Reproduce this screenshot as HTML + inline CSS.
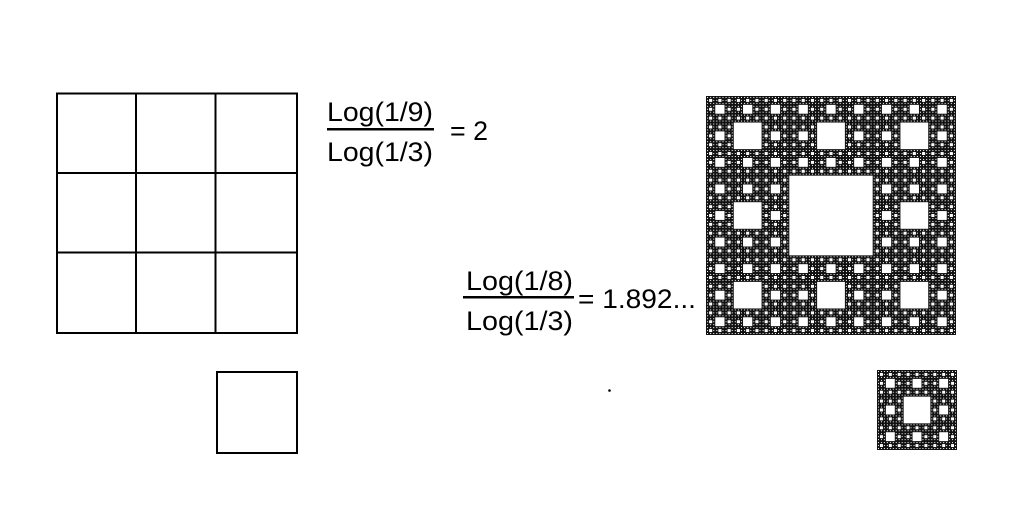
<!DOCTYPE html>
<html><head><meta charset="utf-8"><style>
html,body{margin:0;padding:0;background:#fff;}
svg{display:block;}
text{font-family:"Liberation Sans",sans-serif;fill:#000;}
</style></head><body>
<svg id="s" width="1024" height="513" viewBox="0 0 1024 513" xmlns="http://www.w3.org/2000/svg">
<rect width="1024" height="513" fill="#fff"/>
<g fill="none" stroke="#000" stroke-width="2">
<rect x="57" y="93.5" width="240" height="239.5"/>
<line x1="136" y1="93" x2="136" y2="333"/>
<line x1="215.5" y1="93" x2="215.5" y2="333"/>
<line x1="56" y1="173" x2="297" y2="173"/>
<line x1="56" y1="252.5" x2="297" y2="252.5"/>
<rect x="217" y="372" width="80" height="81"/>
</g>
<g font-size="27">
<text x="327" y="121" textLength="106" lengthAdjust="spacingAndGlyphs">Log(1/9)</text>
<rect x="327" y="128" width="107" height="2.5" fill="#000"/>
<text x="327" y="161" textLength="106" lengthAdjust="spacingAndGlyphs">Log(1/3)</text>
<text x="450" y="140" textLength="38" lengthAdjust="spacingAndGlyphs">= 2</text>
<text x="466" y="290" textLength="107" lengthAdjust="spacingAndGlyphs">Log(1/8)</text>
<rect x="463" y="296" width="111" height="2.5" fill="#000"/>
<text x="466" y="330" textLength="107" lengthAdjust="spacingAndGlyphs">Log(1/3)</text>
<text x="578" y="308" textLength="118" lengthAdjust="spacingAndGlyphs">= 1.892...</text>
</g>
<circle cx="609.5" cy="390.5" r="1.3" fill="#000"/>
<g id="c"></g>
</svg>
<script>
(function(){
var g=document.getElementById('c'),out=[];
function r(x,y,w,h,f){out.push('<rect x="'+x.toFixed(2)+'" y="'+y.toFixed(2)+'" width="'+w.toFixed(2)+'" height="'+h.toFixed(2)+'" fill="'+f+'"/>');}
function carpet(x,y,w,h,lv){
 if(lv===0)return;
 var a=w/3,b=h/3;
 r(x+a,y+b,a,b,'#fff');
 for(var i=0;i<3;i++)for(var j=0;j<3;j++){if(i==1&&j==1)continue;carpet(x+i*a,y+j*b,a,b,lv-1);}
}
r(706,96,250,239,'#111');
carpet(706,96,250,239,5);
r(877,370,80,80,'#111');
carpet(877,370,80,80,4);
g.innerHTML=out.join('');
})();
</script>
</body></html>
